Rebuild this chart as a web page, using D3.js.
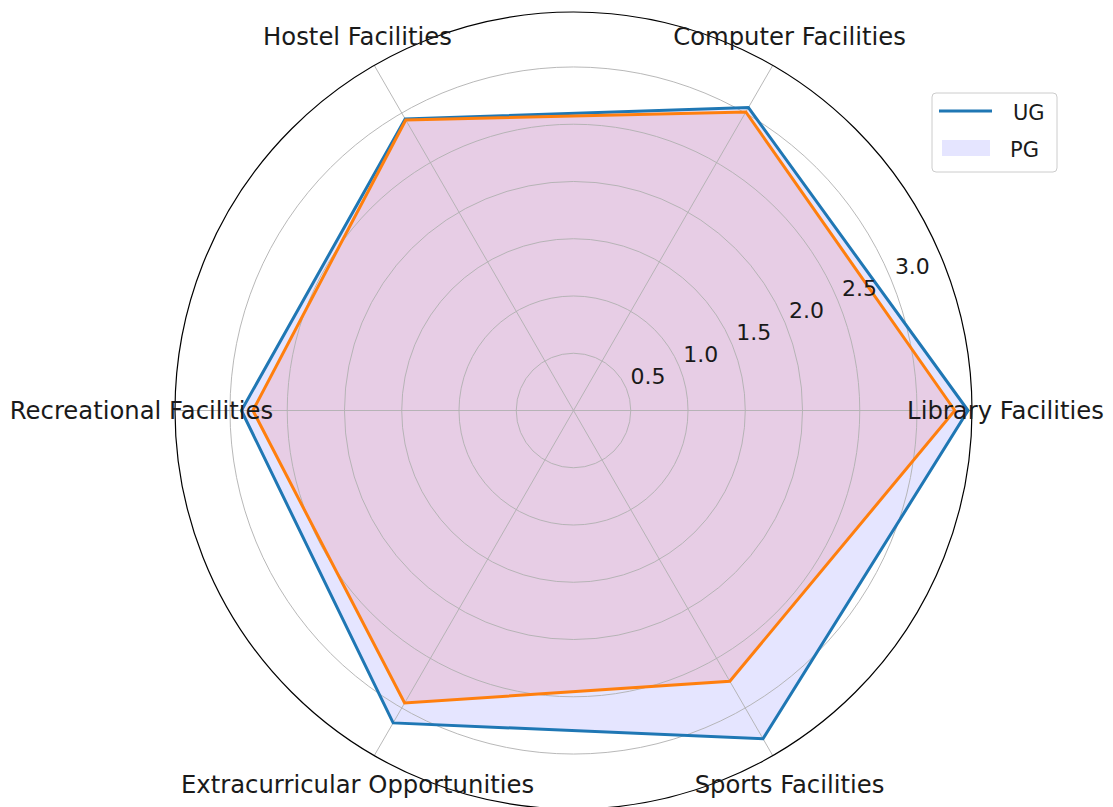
<!DOCTYPE html>
<html>
<head>
<meta charset="utf-8">
<script src="https://cdn.jsdelivr.net/npm/d3@7"></script>
<style>
  html, body { margin: 0; padding: 0; background: #fff; }
  svg { display: block; font-family: "DejaVu Sans", sans-serif; }
</style>
</head>
<body>
<svg id="chart" width="1113" height="807"></svg>
<script>
const categories = ["Library Facilities", "Computer Facilities", "Hostel Facilities",
  "Recreational Facilities", "Extracurricular Opportunities", "Sports Facilities"];
const ugValues = [3.445, 3.055, 2.94, 2.90, 3.15, 3.31];
const pgValues = [3.33, 3.01, 2.93, 2.80, 2.95, 2.73];
const radialTicks = [0.5, 1.0, 1.5, 2.0, 2.5, 3.0];
const radialTickLabels = ["0.5", "1.0", "1.5", "2.0", "2.5", "3.0"];
const seriesNames = ["UG", "PG"];
const rMax = 3.48;

const svg = d3.select("#chart");
const cx = 573.5, cy = 410.5, R = 398.5;
const g = svg.append("g").attr("transform", `translate(${cx},${cy})`);

const r = d3.scaleLinear().domain([0, rMax]).range([0, R]);
// math angle (CCW from east), in radians
const theta = d3.scaleLinear().domain([0, categories.length]).range([0, 2 * Math.PI]);
const px = (i, v) => r(v) * Math.cos(theta(i));
const py = (i, v) => -r(v) * Math.sin(theta(i));

const radial = d3.lineRadial()
  .angle((d, i) => Math.PI / 2 - theta(i))
  .radius(d => r(d))
  .curve(d3.curveLinearClosed);

// fills (below grid)
g.append("path").attr("d", radial(ugValues))
  .attr("fill", "rgb(0,0,255)").attr("fill-opacity", 0.1).attr("stroke", "none");
g.append("path").attr("d", radial(pgValues))
  .attr("fill", "rgb(255,0,0)").attr("fill-opacity", 0.1).attr("stroke", "none");

// grid circles
g.selectAll("circle.grid").data(radialTicks).join("circle")
  .attr("class", "grid").attr("r", d => r(d))
  .attr("fill", "none").attr("stroke", "#b0b0b0").attr("stroke-width", 0.9);

// spokes
g.selectAll("line.spoke").data(categories).join("line")
  .attr("class", "spoke")
  .attr("x1", 0).attr("y1", 0)
  .attr("x2", (d, i) => px(i, rMax)).attr("y2", (d, i) => py(i, rMax))
  .attr("stroke", "#b0b0b0").attr("stroke-width", 0.9);

// lines
g.append("path").attr("d", radial(ugValues))
  .attr("fill", "none").attr("stroke", "#1f77b4").attr("stroke-width", 3).attr("stroke-linejoin", "miter");
g.append("path").attr("d", radial(pgValues))
  .attr("fill", "none").attr("stroke", "#ff7f0e").attr("stroke-width", 3).attr("stroke-linejoin", "miter");

// outer spine
g.append("circle").attr("r", r(rMax)).attr("fill", "none")
  .attr("stroke", "#000").attr("stroke-width", 1.2);

// radial tick labels at 22.5 degrees
const tickAng = 22.5 * Math.PI / 180;
g.selectAll("text.rtick").data(radialTicks).join("text")
  .attr("class", "rtick")
  .attr("x", d => r(d) * Math.cos(tickAng) + 4)
  .attr("y", d => -r(d) * Math.sin(tickAng) - 5)
  .attr("font-size", 22).attr("fill", "#1a1a1a")
  .text((d, i) => radialTickLabels[i]);

// category labels
const labelR = 432;
g.selectAll("text.cat").data(categories).join("text")
  .attr("class", "cat")
  .attr("x", (d, i) => labelR * Math.cos(theta(i)))
  .attr("y", (d, i) => -labelR * Math.sin(theta(i)))
  .attr("text-anchor", "middle").attr("dominant-baseline", "central")
  .attr("font-size", 24.3).attr("fill", "#1a1a1a")
  .text(d => d);

// legend
const lg = svg.append("g").attr("transform", "translate(932,93)");
lg.append("rect").attr("width", 125).attr("height", 79).attr("rx", 4)
  .attr("fill", "#fff").attr("fill-opacity", 0.8)
  .attr("stroke", "#cccccc").attr("stroke-width", 1);
lg.append("line").attr("x1", 7).attr("x2", 60).attr("y1", 18).attr("y2", 18)
  .attr("stroke", "#1f77b4").attr("stroke-width", 3);
lg.append("rect").attr("x", 10).attr("y", 47).attr("width", 48).attr("height", 16)
  .attr("fill", "rgb(0,0,255)").attr("fill-opacity", 0.1);
lg.selectAll("text").data(seriesNames).join("text")
  .attr("x", (d, i) => i === 0 ? 81 : 78)
  .attr("y", (d, i) => 27 + i * 37)
  .attr("font-size", 21).attr("fill", "#1a1a1a")
  .text(d => d);
</script>
</body>
</html>
